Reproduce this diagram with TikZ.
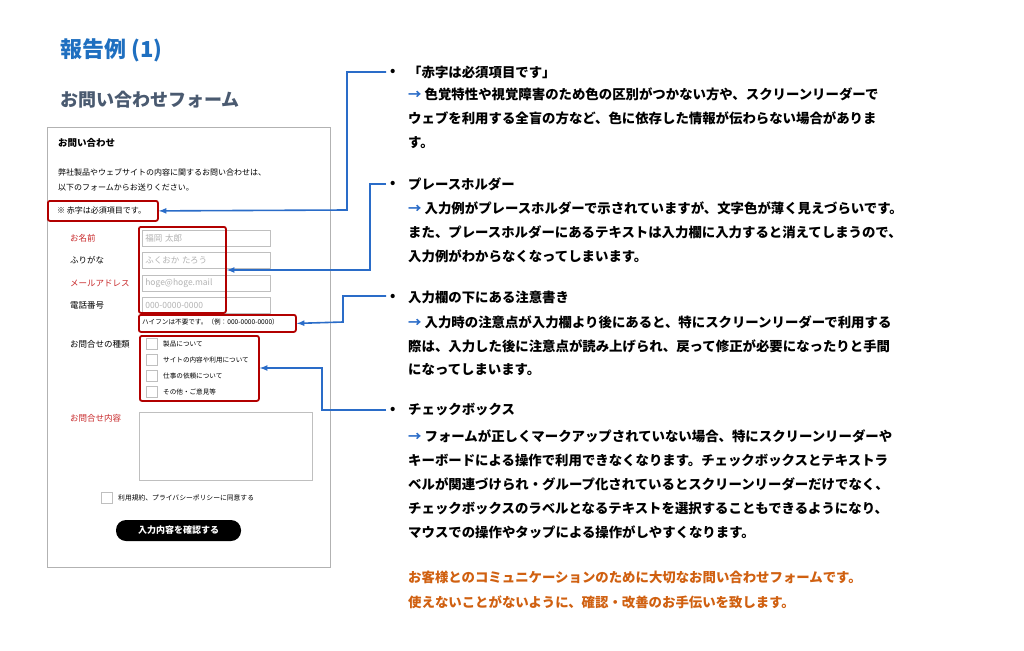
\documentclass[tikz,border=0pt]{standalone}
\usepackage{fontspec}
\setmainfont{Noto Sans CJK JP}
\begin{document}
\begin{tikzpicture}[x=1pt,y=-1pt,
  red box/.style={draw=red!70!black,line width=1.8pt,rounded corners=2pt},
  conn/.style={line width=1.6pt,-latex},
  inp/.style={draw=black!25,line width=0.6pt},
  rt/.style={anchor=west,font=\fontsize{13.4}{15}\selectfont\bfseries,inner sep=0},
  ft/.style={anchor=west,font=\fontsize{8}{9}\selectfont,inner sep=0},
  lab/.style={anchor=west,font=\fontsize{8.5}{9}\selectfont,inner sep=0}]
\useasboundingbox (0,0) rectangle (1024,650);
\fill[white] (0,0) rectangle (1024,650);
\definecolor{tblue}{HTML}{1F6FC0}
\definecolor{sub}{HTML}{4A5A70}
\definecolor{fred}{HTML}{C8282A}
\definecolor{org}{HTML}{D06010}
\definecolor{arr}{HTML}{2A6CC8}
\node[anchor=west,inner sep=0,text=tblue,font=\fontsize{22}{24}\selectfont\bfseries] (title) at (60,50) {報告例 (1)};
\node[anchor=west,inner sep=0,text=sub,font=\fontsize{18}{20}\selectfont\bfseries] (subt) at (60,100) {お問い合わせフォーム};
% form
\node[draw=black!30,line width=0.8pt,minimum width=283pt,minimum height=440pt,anchor=north west,inner sep=0] (form) at (47,127) {};
\node[anchor=west,inner sep=0,font=\fontsize{9.5}{10}\selectfont\bfseries] (fh) at (58,143) {お問い合わせ};
\node[ft] (f1) at (58,172) {弊社製品やウェブサイトの内容に関するお問い合わせは、};
\node[ft] (f2) at (58,187) {以下のフォームからお送りください。};
\node[ft] (f3) at (57,210) {※ 赤字は必須項目です。};
\node[lab,text=fred] (l1) at (70,238) {お名前};
\node[lab] (l2) at (70,260) {ふりがな};
\node[lab,text=fred] (l3) at (70,283) {メールアドレス};
\node[lab] (l4) at (70,305) {電話番号};
\foreach \y/\t [count=\i] in {238/福岡 太郎,260/ふくおか たろう,283/hoge@hoge.mail,305/000-0000-0000}{
  \node[inp,anchor=west,minimum width=128pt,minimum height=16pt,inner sep=3pt,text=black!30,font=\fontsize{8.5}{9}\selectfont,text width=122pt] (in\i) at (142,\y) {\t};}
\node[anchor=west,inner sep=0,font=\fontsize{6.6}{7}\selectfont] (hy) at (142,322) {ハイフンは不要です。（例：000-0000-0000）};
\node[lab] (l5) at (70,344) {お問合せの種類};
\foreach \y/\t [count=\i] in {344/製品について,360/サイトの内容や利用について,376/仕事の依頼について,392/その他・ご意見等}{
  \node[inp,minimum size=11pt,inner sep=0] (cb\i) at (152,\y) {};
  \node[anchor=west,inner sep=0,font=\fontsize{6.6}{7}\selectfont] (cl\i) at (163,\y) {\t};}
\node[lab,text=fred] (l6) at (70,418) {お問合せ内容};
\node[inp,anchor=north west,minimum width=173pt,minimum height=68pt,inner sep=0] (ta) at (139,412) {};
\node[inp,minimum size=11pt,inner sep=0] (agb) at (107,498) {};
\node[anchor=west,inner sep=0,font=\fontsize{6.8}{7}\selectfont] (agt) at (118,498) {利用規約、プライバシーポリシーに同意する};
\node[fill=black,rounded corners=10pt,minimum width=125pt,minimum height=21pt,text=white,font=\fontsize{9}{9}\selectfont\bfseries,inner sep=0] (btn) at (178.5,530.5) {入力内容を確認する};
% red boxes
\node[red box,anchor=north west,minimum width=110pt,minimum height=20pt,inner sep=0] (rb1) at (47,200) {};
\node[red box,anchor=north west,minimum width=87pt,minimum height=86pt,inner sep=0] (rb2) at (138,226) {};
\node[red box,anchor=north west,minimum width=157pt,minimum height=17pt,inner sep=0] (rb3) at (138,314) {};
\node[red box,anchor=north west,minimum width=119pt,minimum height=65pt,inner sep=0] (rb4) at (139,335) {};
% right text
\node[rt] (b1) at (390,72) {•};
\node[rt] (t11) at (408,72) {「赤字は必須項目です」};
\node[rt] (t12) at (408,94) {{\color{arr}→} 色覚特性や視覚障害のため色の区別がつかない方や、スクリーンリーダーで};
\node[rt] (t13) at (408,118) {ウェブを利用する全盲の方など、色に依存した情報が伝わらない場合がありま};
\node[rt] (t14) at (408,143) {す。};
\node[rt] (b2) at (390,184) {•};
\node[rt] (t21) at (408,184) {プレースホルダー};
\node[rt] (t22) at (408,208) {{\color{arr}→} 入力例がプレースホルダーで示されていますが、文字色が薄く見えづらいです。};
\node[rt] (t23) at (408,232) {また、プレースホルダーにあるテキストは入力欄に入力すると消えてしまうので、};
\node[rt] (t24) at (408,256) {入力例がわからなくなってしまいます。};
\node[rt] (b3) at (390,297) {•};
\node[rt] (t31) at (408,297) {入力欄の下にある注意書き};
\node[rt] (t32) at (408,322) {{\color{arr}→} 入力時の注意点が入力欄より後にあると、特にスクリーンリーダーで利用する};
\node[rt] (t33) at (408,346) {際は、入力した後に注意点が読み上げられ、戻って修正が必要になったりと手間};
\node[rt] (t34) at (408,370) {になってしまいます。};
\node[rt] (b4) at (390,410) {•};
\node[rt] (t41) at (408,410) {チェックボックス};
\node[rt] (t42) at (408,436) {{\color{arr}→} フォームが正しくマークアップされていない場合、特にスクリーンリーダーや};
\node[rt] (t43) at (408,460) {キーボードによる操作で利用できなくなります。チェックボックスとテキストラ};
\node[rt] (t44) at (408,484) {ベルが関連づけられ・グループ化されているとスクリーンリーダーだけでなく、};
\node[rt] (t45) at (408,508) {チェックボックスのラベルとなるテキストを選択することもできるようになり、};
\node[rt] (t46) at (408,532) {マウスでの操作やタップによる操作がしやすくなります。};
\node[rt,text=org] (o1) at (408,577) {お客様とのコミュニケーションのために大切なお問い合わせフォームです。};
\node[rt,text=org] (o2) at (408,602) {使えないことがないように、確認・改善のお手伝いを致します。};
% connectors
\coordinate (s1) at (386,72); \coordinate (s2) at (386,184);
\coordinate (s3) at (386,296); \coordinate (s4) at (386,410);
\draw[conn,draw=arr] (s1) -- (347,72) -- (347,210) -- (rb1.east);
\draw[conn,draw=arr] (s2) -- (370,184) -- (370,270) -- (rb2.east |- 0,270);
\draw[conn,draw=arr] (s3) -- (343,296) -- (343,322) -- (rb3.east);
\draw[conn,draw=arr] (s4) -- (322,410) -- (322,368) -- (rb4.east |- 0,368);
\end{tikzpicture}
\end{document}
